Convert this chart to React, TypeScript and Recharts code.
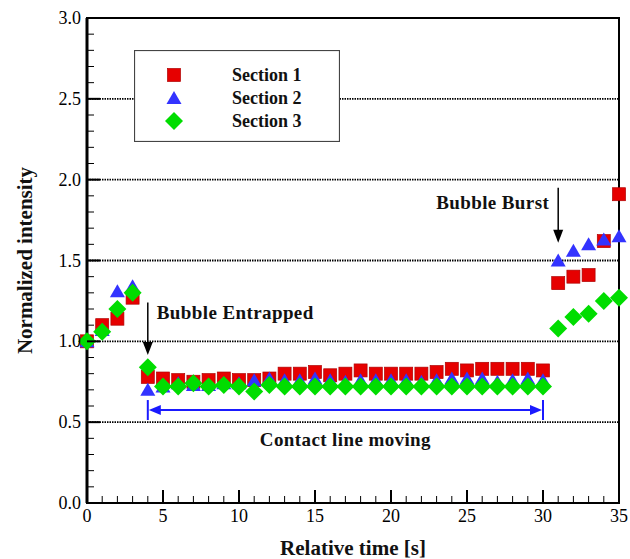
import { ScatterChart, Scatter, XAxis, YAxis, ReferenceLine, ReferenceArea, Legend } from "recharts";

// relative time [s]
const time = [0, 1, 2, 3, 4, 5, 6, 7, 8, 9, 10, 11, 12, 13, 14, 15, 16, 17, 18, 19, 20, 21, 22, 23, 24, 25, 26, 27, 28, 29, 30, 31, 32, 33, 34, 35];

const section1 = [1.0, 1.1, 1.14, 1.27, 0.78, 0.77, 0.76, 0.75, 0.76, 0.77, 0.76, 0.76, 0.77, 0.8, 0.8, 0.81, 0.79, 0.8, 0.82, 0.8, 0.8, 0.8, 0.8, 0.81, 0.83, 0.82, 0.83, 0.83, 0.83, 0.83, 0.82, 1.36, 1.4, 1.41, 1.62, 1.91];
const section2 = [1.0, 1.07, 1.31, 1.34, 0.7, 0.72, 0.74, 0.73, 0.73, 0.74, 0.74, 0.76, 0.77, 0.76, 0.76, 0.77, 0.76, 0.75, 0.76, 0.76, 0.76, 0.76, 0.75, 0.76, 0.77, 0.77, 0.77, 0.75, 0.76, 0.77, 0.76, 1.5, 1.56, 1.6, 1.63, 1.65];
const section3 = [1.0, 1.06, 1.2, 1.3, 0.84, 0.72, 0.72, 0.74, 0.72, 0.73, 0.72, 0.69, 0.73, 0.72, 0.72, 0.72, 0.72, 0.72, 0.72, 0.72, 0.72, 0.72, 0.72, 0.72, 0.72, 0.72, 0.72, 0.72, 0.72, 0.72, 0.72, 1.08, 1.15, 1.17, 1.25, 1.27];

const seriesNames = ["Section 1", "Section 2", "Section 3"];
const gridLevels = [0.5, 1.0, 1.5, 2.0, 2.5];
const yTicks = Array.from({ length: 31 }, (_, i) => i / 10);

const entrapArrow = [{ x: 4, y: 1.24 }, { x: 4, y: 0.915 }];
const burstArrow = [{ x: 31, y: 1.95 }, { x: 31, y: 1.61 }];
const contactArrow = [{ x: 4, y: 0.575 }, { x: 30, y: 0.575 }];

const FONT = '"Liberation Serif", "Times New Roman", serif';
const RED = "#e60000";
const BLUE = "#3333ff";
const GREEN = "#00dd00";

const toPoints = (vals: number[]) => time.map((t, i) => ({ x: t, y: vals[i] }));

const Square = ({ cx, cy }: any) => (
  <rect x={cx - 6.5} y={cy - 6.5} width={13} height={13} fill={RED} stroke="#b00000" strokeWidth={0.7} />
);
const Triangle = ({ cx, cy }: any) => (
  <polygon points={`${cx},${cy - 7} ${cx + 7.5},${cy + 6} ${cx - 7.5},${cy + 6}`} fill={BLUE} />
);
const Diamond = ({ cx, cy }: any) => (
  <polygon points={`${cx},${cy - 9} ${cx + 9},${cy} ${cx},${cy + 9} ${cx - 9},${cy}`} fill={GREEN} />
);

const XTick = ({ x, y, payload }: any) => {
  const major = payload.value % 5 === 0;
  return (
    <g>
      <line x1={x} y1={y} x2={x} y2={y - (major ? 13 : 7)} stroke="#000" strokeWidth={major ? 2 : 1} />
      {major && (
        <text x={x} y={y + 19} textAnchor="middle" fontFamily={FONT} fontSize={18} fill="#000">
          {payload.value}
        </text>
      )}
    </g>
  );
};

const YTick = ({ x, y, payload }: any) => {
  const major = Math.round(payload.value * 10) % 5 === 0;
  return (
    <g>
      <line x1={x} y1={y} x2={x + (major ? 13 : 7)} y2={y} stroke="#000" strokeWidth={major ? 2 : 1} />
      {major && (
        <text x={x - 6} y={y + 6} textAnchor="end" fontFamily={FONT} fontSize={18} fill="#000">
          {payload.value.toFixed(1)}
        </text>
      )}
    </g>
  );
};

const labelStyle = { fontFamily: FONT, fontSize: 19, fontWeight: "bold" as const, fill: "#111", letterSpacing: 0.4 };

const EntrapShape = ({ x1, y1, x2, y2 }: any) => (
  <g>
    <line x1={x1} y1={y1} x2={x2} y2={y2 - 10} stroke="#000" strokeWidth={1.5} />
    <polygon points={`${x2 - 5},${y2 - 13} ${x2 + 5},${y2 - 13} ${x2},${y2}`} fill="#000" />
    <text x={x1 + 9} y={y1 + 16} {...labelStyle}>Bubble Entrapped</text>
  </g>
);

const BurstShape = ({ x1, y1, x2, y2 }: any) => (
  <g>
    <line x1={x1} y1={y1} x2={x2} y2={y2 - 10} stroke="#000" strokeWidth={1.5} />
    <polygon points={`${x2 - 5},${y2 - 13} ${x2 + 5},${y2 - 13} ${x2},${y2}`} fill="#000" />
    <text x={x1 - 9} y={y1 + 21} textAnchor="end" {...labelStyle}>Bubble Burst</text>
  </g>
);

const ContactShape = ({ x1, y1, x2, y2 }: any) => (
  <g>
    <line x1={x1 + 10} y1={y1} x2={x2 - 10} y2={y2} stroke="#1a1aff" strokeWidth={2} />
    <line x1={x1} y1={y1 - 10} x2={x1} y2={y1 + 10} stroke="#1a1aff" strokeWidth={2} />
    <line x1={x2} y1={y2 - 10} x2={x2} y2={y2 + 10} stroke="#1a1aff" strokeWidth={2} />
    <polygon points={`${x1 + 1},${y1} ${x1 + 13},${y1 - 5} ${x1 + 13},${y1 + 5}`} fill="#1a1aff" />
    <polygon points={`${x2 - 1},${y2} ${x2 - 13},${y2 - 5} ${x2 - 13},${y2 + 5}`} fill="#1a1aff" />
    <text x={(x1 + x2) / 2} y={y1 + 36} textAnchor="middle" {...labelStyle}>Contact line moving</text>
  </g>
);

const LegendBox = () => {
  const rows = [
    { name: seriesNames[0], Mark: Square },
    { name: seriesNames[1], Mark: Triangle },
    { name: seriesNames[2], Mark: Diamond },
  ];
  return (
    <svg width={206} height={92} style={{ display: "block", background: "#fff" }}>
      <rect x={0.5} y={0.5} width={205} height={91} fill="#fff" stroke="#444" strokeWidth={1.2} />
      {rows.map((r, i) => (
        <g key={r.name}>
          <r.Mark cx={40} cy={25 + i * 23} />
          <text x={98} y={25 + i * 23 + 6} fontFamily={FONT} fontSize={18} fontWeight="bold" fill="#111">
            {r.name}
          </text>
        </g>
      ))}
    </svg>
  );
};

export default function App() {
  return (
    <div style={{ position: "absolute", left: 0, top: 0, width: 630, height: 559, background: "#fff" }}>
      <ScatterChart width={630} height={559} margin={{ top: 18, right: 11, bottom: 0, left: 0 }}>
        <XAxis
          dataKey="x"
          type="number"
          domain={[0, 35]}
          ticks={time}
          interval={0}
          tick={XTick}
          tickLine={false}
          axisLine={false}
          tickSize={0}
          tickMargin={0}
          height={56}
          label={({ viewBox }: any) => (
            <text x={viewBox.x + viewBox.width / 2} y={viewBox.y + 52} textAnchor="middle" fontFamily={FONT} fontSize={21} fontWeight="bold" fill="#111">
              Relative time [s]
            </text>
          )}
        />
        <YAxis
          dataKey="y"
          type="number"
          domain={[0, 3]}
          ticks={yTicks}
          interval={0}
          tick={YTick}
          tickLine={false}
          axisLine={{ stroke: "#000", strokeWidth: 3 }}
          tickSize={0}
          tickMargin={0}
          width={87}
          label={({ viewBox }: any) => {
            const cx = viewBox.x + 25;
            const cy = viewBox.y + viewBox.height / 2;
            return (
              <text x={cx} y={cy} transform={`rotate(-90 ${cx} ${cy})`} textAnchor="middle" dominantBaseline="central" fontFamily={FONT} fontSize={21} fontWeight="bold" fill="#111">
                Normalized intensity
              </text>
            );
          }}
        />
        {gridLevels.map((v) => (
          <ReferenceLine key={v} y={v} stroke="#000" strokeWidth={1.8} strokeDasharray="1.5 1" />
        ))}
        <ReferenceArea x1={0} x2={35} y1={0} y2={3} fill="none" stroke="#000" strokeWidth={2} />
        <ReferenceLine segment={entrapArrow} shape={EntrapShape} />
        <ReferenceLine segment={burstArrow} shape={BurstShape} />
        <ReferenceLine segment={contactArrow} shape={ContactShape} />
        <Scatter name={seriesNames[0]} data={toPoints(section1)} shape={Square} isAnimationActive={false} />
        <Scatter name={seriesNames[1]} data={toPoints(section2)} shape={Triangle} isAnimationActive={false} />
        <Scatter name={seriesNames[2]} data={toPoints(section3)} shape={Diamond} isAnimationActive={false} />
        <Legend
          layout="vertical"
          align="center"
          verticalAlign="middle"
          wrapperStyle={{ position: "absolute", left: 134, top: 50, width: 206, height: 92 }}
          content={() => <LegendBox />}
        />
      </ScatterChart>
    </div>
  );
}
